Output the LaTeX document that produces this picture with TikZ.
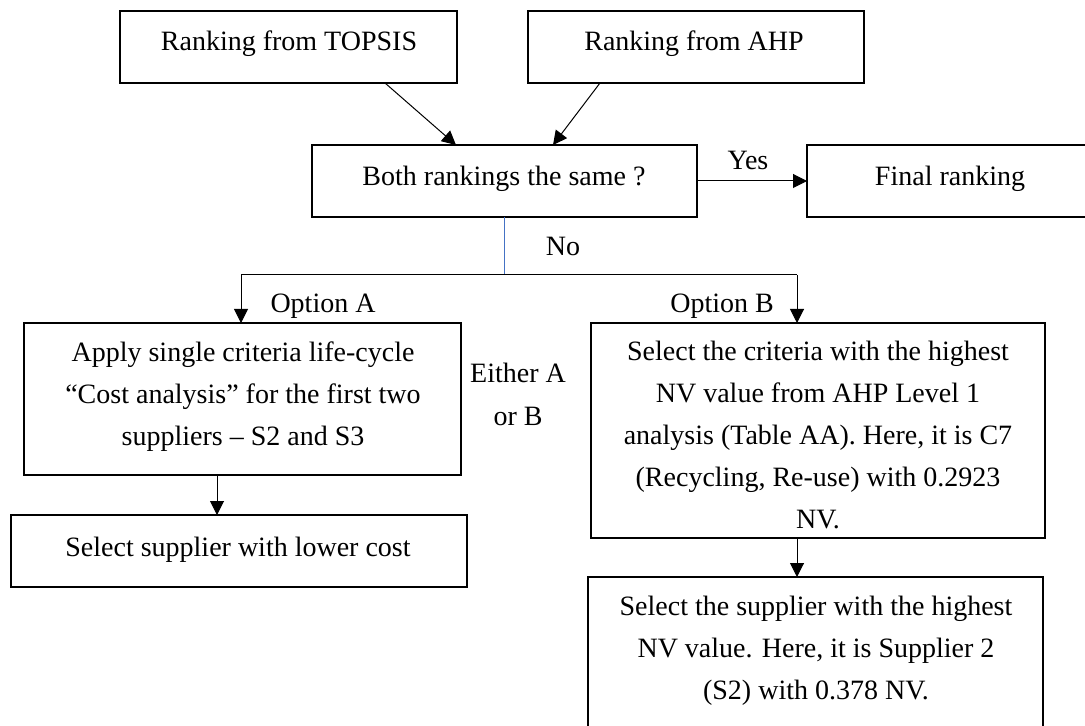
\documentclass[tikz,border=0pt]{standalone}
\usepackage{fontspec}
\setmainfont{Liberation Serif}
\usetikzlibrary{arrows.meta,calc}
\definecolor{lineblue}{RGB}{68,114,196}
\newcommand\myfs{\fontsize{14}{21}\selectfont}
\begin{document}
\begin{tikzpicture}[x=0.5pt,y=-0.5pt,
  box/.style={draw=black,line width=0.65pt,inner sep=0pt,outer sep=0pt},
  txt/.style={font=\myfs,align=center,inner sep=0pt,anchor=base},
  arr/.style={line width=0.5pt,-{Triangle[length=7pt,width=7pt]}},
  ln/.style={line width=0.5pt}]
\path[use as bounding box,clip] (0,0) rectangle (1085,726);

% boxes
\node[box,minimum width=168.5pt,minimum height=36pt] (topsis) at (288.5,47) {};
\node[box,minimum width=168pt,minimum height=36pt] (ahp) at (696,47) {};
\node[box,minimum width=192.5pt,minimum height=36pt] (both) at (504.5,181) {};
\node[box,minimum width=143pt,minimum height=36pt] (final) at (950,181) {};
\node[box,minimum width=218.5pt,minimum height=76pt] (boxA) at (242.5,399) {};
\node[box,minimum width=228pt,minimum height=36pt] (low) at (239,551) {};
\node[box,minimum width=227pt,minimum height=107.5pt] (boxB) at (818,430.5) {};
\node[box,minimum width=227.5pt,minimum height=82.5pt] (bottom) at (815.5,659.5) {};

% texts (base anchor = baseline of the last line)
\node[txt] (tTopsis) at (289,51) {Ranking from TOPSIS};
\node[txt] (tAhp) at (694,51) {Ranking from AHP};
\node[txt] (tBoth) at (504,186) {Both rankings the same ?};
\node[txt] (tFinal) at (950,186) {Final ranking};
\node[txt] (tA) at (243,445) {Apply single criteria life-cycle\\ ``Cost analysis'' for the first two\\ suppliers -- S2 and S3};
\node[txt] (tLow) at (238,556) {Select supplier with lower cost};
\node[txt] (tB) at (818,528) {Select the criteria with the highest\\ NV value from AHP Level 1\\ analysis (Table AA). Here, it is C7\\ (Recycling, Re-use) with 0.2923\\ NV.};
\node[txt] (tBottom) at (816,699) {Select the supplier with the highest\\ NV value. Here, it is Supplier 2\\ (S2) with 0.378 NV.};

% labels
\node[txt] (lYes) at (748,170) {Yes};
\node[txt] (lNo) at (563,256) {No};
\node[txt] (lOptA) at (323,313) {Option A};
\node[txt] (lOptB) at (722,313) {Option B};
\node[txt] (lEither) at (518,425) {Either A\\ or B};

% connectors
\draw[arr] ($(topsis.south west)+(265,0)$) -- ($(both.north west)+(144,0)$);
\draw[arr] ($(ahp.south west)+(72,0)$) -- ($(both.north west)+(241,0)$);
\draw[arr] (both.east) -- (final.west);
\coordinate (split) at ($(both.south)+(0,58)$);
\draw[ln,draw=lineblue] (both.south) -- (split);
\coordinate (splitA) at ($(boxA.north west)+(217,-48)$);
\coordinate (splitB) at ($(boxB.north west)+(206,-48)$);
\draw[ln] (splitA) -- (splitB);
\draw[arr] (splitA) -- ($(boxA.north west)+(217,0)$);
\draw[arr] (splitB) -- ($(boxB.north west)+(206,0)$);
\draw[arr] ($(boxA.south west)+(193,0)$) -- ($(low.north west)+(206,0)$);
\draw[arr] ($(boxB.south west)+(206,0)$) -- ($(bottom.north west)+(209,0)$);
\end{tikzpicture}
\end{document}
